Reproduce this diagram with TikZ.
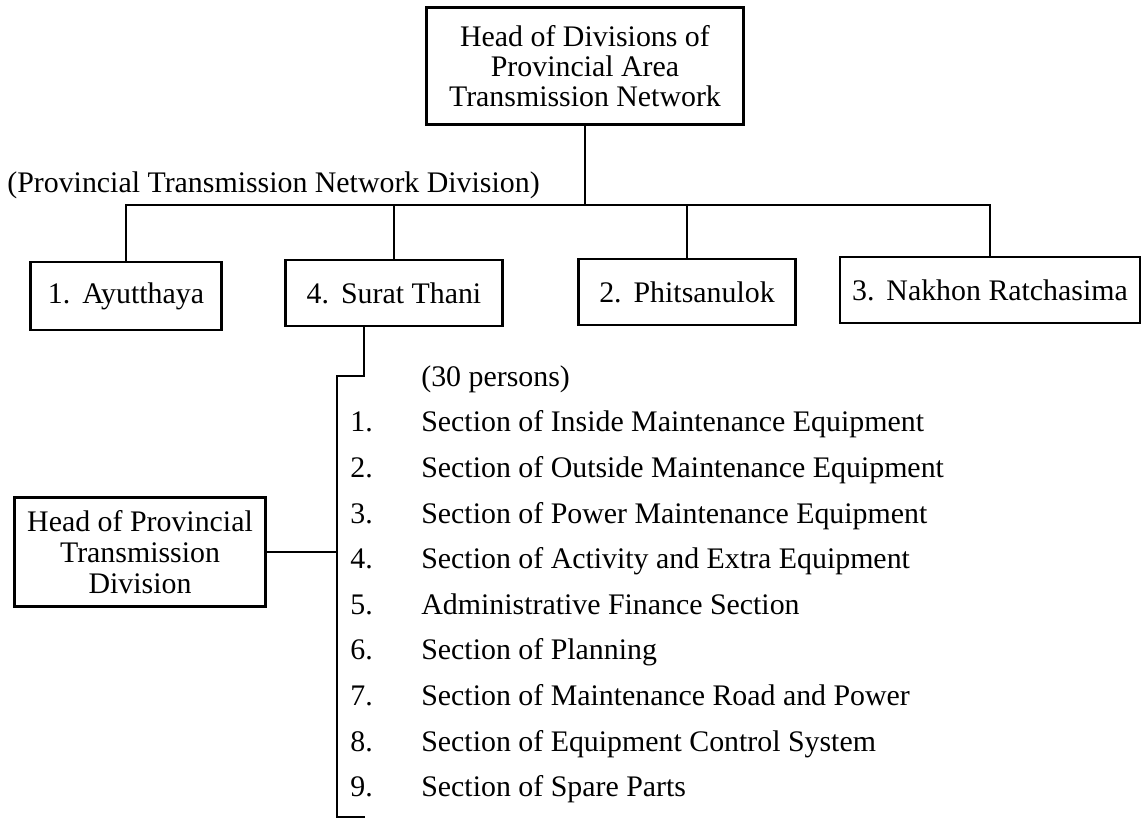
\documentclass[tikz,border=0pt]{standalone}
\usepackage{fontspec}
\setmainfont{Liberation Serif}
\usetikzlibrary{calc}
\tikzset{
  orgbox/.style={draw, line width=1.2pt, align=center, inner sep=0pt, font=\fontsize{17}{17}\selectfont},
  orgline/.style={line width=1.2pt},
  itemtext/.style={anchor=base west, inner sep=0pt, font=\fontsize{17}{20}\selectfont}
}

\begin{document}
\begin{tikzpicture}[x=0.02cm, y=-0.02cm]
		\useasboundingbox (0,0) rectangle (1143,820);
		%%%%% START %%%%%
		
		\node[orgbox, minimum width=6.34cm, minimum height=2.34cm] (head) at (585,66) {Head of Divisions of\\Provincial Area\\Transmission Network};
		\node[itemtext] (pdiv) at (7,193) {(Provincial Transmission Network Division)};
		
		\node[orgbox, minimum width=3.82cm, minimum height=1.36cm] (ayu) at (126,296) {1.\hspace{0.4em}Ayutthaya};
		\node[orgbox, minimum width=4.34cm, minimum height=1.32cm] (sur) at (394,293) {4.\hspace{0.4em}Surat Thani};
		\node[orgbox, minimum width=4.34cm, minimum height=1.32cm] (phi) at (687,292) {2.\hspace{0.4em}Phitsanulok};
		\node[orgbox, minimum width=6.0cm, minimum height=1.32cm] (nak) at (990,290) {3.\hspace{0.4em}Nakhon Ratchasima};
		
		\node[orgbox, minimum width=5.02cm, minimum height=2.18cm, font=\fontsize{17}{17.6}\selectfont] (hpt) at (140,552) {Head of Provincial\\Transmission\\Division};
		
		\coordinate (bus) at (0,205);
		\coordinate (jog) at (337,376);
		\coordinate (spineend) at (337,817);
		
		\draw[orgline] (head.south) -- (head.south |- bus);
		\draw[orgline] (ayu.north) -- (ayu.north |- bus) -- (nak.north |- bus) -- (nak.north);
		\draw[orgline] (sur.north) -- (sur.north |- bus);
		\draw[orgline] (phi.north) -- (phi.north |- bus);
		\draw[orgline] ([xshift=-0.6cm]sur.south) |- (jog) -- (spineend) -- ++(28,0);
		\draw[orgline] (hpt.east) -- (hpt.east -| jog);
		
		\node[itemtext] (persons) at (421,387) {(30 persons)};
		\foreach \txt [count=\i] in {Section of Inside Maintenance Equipment, Section of Outside Maintenance Equipment, Section of Power Maintenance Equipment, Section of Activity and Extra Equipment, Administrative Finance Section, Section of Planning, Section of Maintenance Road and Power, Section of Equipment Control System, Section of Spare Parts}{
			\node[itemtext] (num\i) at (350, {386.4+45.6*\i}) {\i.};
			\node[itemtext] (sec\i) at (421, {386.4+45.6*\i}) {\txt};
		}
		
		%%%%% END %%%%%
	\end{tikzpicture}
\end{document}
